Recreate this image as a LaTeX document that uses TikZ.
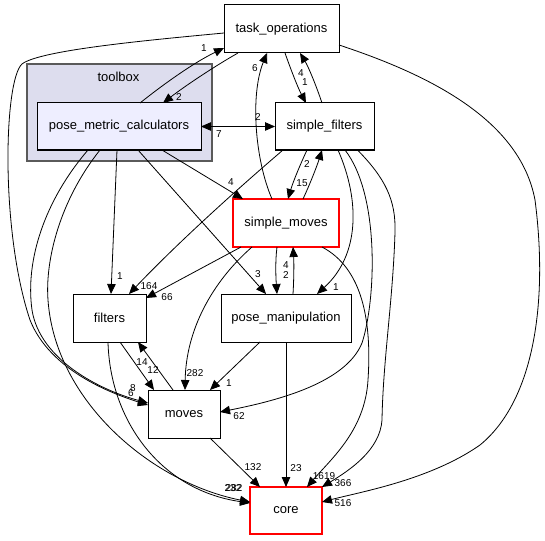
\documentclass[tikz,border=0pt]{standalone}
\usepackage{fontspec}
\setmainfont{Liberation Sans}
\usetikzlibrary{arrows.meta}
\definecolor{clusterfill}{RGB}{221,221,238}
\definecolor{nodefill}{RGB}{238,238,255}
\definecolor{clusterline}{RGB}{90,90,90}
\definecolor{boxred}{RGB}{255,0,0}
\begin{document}
\begin{tikzpicture}[x=1pt,y=-1pt,
  box/.style={draw=black,line width=1pt,fill=white,rectangle,inner sep=0pt,outer sep=0pt,font=\fontsize{13}{15}\selectfont},
  redbox/.style={box,draw=boxred,line width=1.2pt},
  dep/.style={line width=0.8pt,-{Triangle[length=10pt,width=8.5pt]}},
  both/.style={line width=0.8pt,{Triangle[length=10pt,width=8.5pt]}-{Triangle[length=10pt,width=8.5pt]}},
  lab/.style={font=\fontsize{10}{12}\selectfont,inner sep=0pt}
]
\useasboundingbox (0,0) rectangle (545,540);
% cluster
\node[draw=clusterline,line width=1.3pt,fill=clusterfill,minimum width=185pt,minimum height=97pt,inner sep=0pt,outer sep=0pt] (toolbox) at (119.5,112.5) {};
\node[font=\fontsize{13}{15}\selectfont,inner sep=0pt] (toolboxlabel) at (118.5,77) {toolbox};

% edges (drawn first, nodes on top)
\node[box,minimum width=115pt,minimum height=48pt] (to) at (281.5,29) {task\_operations};
\node[box,fill=nodefill,minimum width=164pt,minimum height=47pt] (pmc) at (119,126.5) {pose\_metric\_calculators};
\node[box,minimum width=99pt,minimum height=47pt] (sf) at (324.5,126.5) {simple\_filters};
\node[redbox,minimum width=106pt,minimum height=48pt] (sm) at (286,223) {simple\_moves};
\node[box,minimum width=73pt,minimum height=48pt] (fil) at (109.5,318) {filters};
\node[box,minimum width=130pt,minimum height=48pt] (pm) at (286,318) {pose\_manipulation};
\node[box,minimum width=72pt,minimum height=48pt] (mv) at (184,414) {moves};
\node[redbox,minimum width=72pt,minimum height=47pt] (core) at (286,510.5) {core};

\draw[dep] ([xshift=21pt]pmc.north) .. controls (165,83) and (195,62) .. ([yshift=5pt]to.south west);
\draw[dep] ([xshift=-43.5pt]to.south) .. controls (215,66) and (185,86) .. ([xshift=44pt]pmc.north);
\draw[dep] ([yshift=-4pt]to.west) .. controls (150,40) and (40,50) .. (22,64) .. controls (4,80) and (0,230) .. (30,320) .. controls (50,370) and (110,393) .. ([yshift=9pt]mv.west);
\draw[dep] ([yshift=-16pt]to.east) .. controls (430,75) and (520,120) .. (535,200) .. controls (548,300) and (535,400) .. (480,445) .. controls (430,480) and (360,492) .. ([yshift=8.5pt]core.east);
\draw[dep] ([xshift=3.5pt]to.south) .. controls (291,70) and (298,88) .. ([xshift=-18.5pt]sf.north);
\draw[dep] ([xshift=-2.5pt]sf.north) .. controls (316,85) and (308,66) .. ([xshift=18.5pt]to.south);
\draw[dep] ([xshift=-14pt]sm.north) .. controls (255,160) and (250,95) .. ([xshift=-14.5pt]to.south);
\draw[both] (pmc.east) -- (sf.west);
\draw[dep] ([xshift=-17.5pt]sf.south) .. controls (300,165) and (293,182) .. ([xshift=2pt]sm.north);
\draw[dep] ([xshift=17pt]sm.north) .. controls (310,184) and (317,166) .. ([xshift=-2.5pt]sf.south);
\draw[dep] ([xshift=43pt]pmc.south) -- ([xshift=-43pt]sm.north);
\draw[dep] ([xshift=-41.5pt]sf.south) .. controls (262,168) and (190,230) .. ([xshift=19.5pt]fil.north);
\draw[dep] ([xshift=-45pt]sm.south) -- ([yshift=20pt]fil.east);
\draw[dep] ([xshift=-2pt]pmc.south) -- ([xshift=1.5pt]fil.north);
\draw[dep] ([xshift=19pt]pmc.south) -- ([xshift=-20pt]pm.north);
\draw[dep] ([xshift=-9pt]sm.south) .. controls (275,262) and (276,280) .. ([xshift=-9pt]pm.north);
\draw[dep] ([xshift=7pt]pm.north) .. controls (294,278) and (294,262) .. ([xshift=7pt]sm.south);
\draw[dep] ([xshift=13.5pt]sf.south) .. controls (360,200) and (360,255) .. ([xshift=31pt]pm.north);
\draw[dep] ([xshift=20.5pt]sf.south) .. controls (380,195) and (376,300) .. (362,343) .. controls (345,385) and (270,402) .. ([yshift=2pt]mv.east);
\draw[dep] ([xshift=33pt]sf.south) .. controls (385,178) and (396,200) .. (395,232) .. controls (393,300) and (383,360) .. (382,420) .. controls (380,450) and (350,470) .. (core.north east);
\draw[dep] ([xshift=36pt]sm.south) .. controls (362,268) and (372,320) .. (368,380) .. controls (365,430) and (332,458) .. ([xshift=21pt]core.north);
\draw[dep] ([xshift=-34pt]sm.south) .. controls (212,282) and (186,330) .. ([xshift=1pt]mv.north);
\draw[dep] ([xshift=-26pt]pm.south) -- ([xshift=26pt]mv.north);
\draw[dep] (pm.south) -- (core.north);
\draw[dep] ([xshift=26pt]mv.south) -- ([xshift=-26pt]core.north);
\draw[dep] ([xshift=10.5pt]fil.south) -- ([xshift=-30pt]mv.north);
\draw[dep] ([xshift=-11pt]mv.north) -- ([xshift=28.5pt]fil.south);
\draw[dep] ([xshift=-1.5pt]fil.south) .. controls (110,420) and (160,490) .. ([yshift=7.5pt]core.west);
\draw[dep] ([xshift=-31pt]pmc.south) .. controls (45,200) and (25,260) .. (32,310) .. controls (40,360) and (100,390) .. ([yshift=11pt]mv.west);
\draw[dep] ([xshift=-19pt]pmc.south) .. controls (60,200) and (45,260) .. (48,300) .. controls (55,400) and (150,482) .. ([yshift=8.5pt]core.west);

% labels
\node[lab] (l1) at (204,48) {1};
\node[lab] (l2) at (179,97) {2};
\node[lab] (l3) at (255,68) {6};
\node[lab] (l4) at (301,73) {4};
\node[lab] (l5) at (305,82) {1};
\node[lab] (l6) at (258,117) {2};
\node[lab] (l7) at (219,134) {7};
\node[lab] (l8) at (231,182) {4};
\node[lab] (l9) at (302,183) {15};
\node[lab] (l10) at (307,164) {2};
\node[lab] (l11) at (120,276) {1};
\node[lab] (l12) at (149,286) {164};
\node[lab] (l13) at (167,297) {66};
\node[lab] (l14) at (258,274) {3};
\node[lab] (l15) at (286,265) {4};
\node[lab] (l16) at (286,275) {2};
\node[lab] (l17) at (336,287) {1};
\node[lab] (l18) at (142,362) {14};
\node[lab] (l19) at (153,370) {12};
\node[lab] (l20) at (195,373) {282};
\node[lab] (l21) at (229,383) {1};
\node[lab] (l22) at (133,388) {8};
\node[lab] (l23) at (131,393) {6};
\node[lab] (l24) at (239,416) {62};
\node[lab] (l25) at (253,467) {132};
\node[lab] (l26) at (296,468) {23};
\node[lab] (l27) at (324,476) {1619};
\node[lab] (l28) at (343,483) {366};
\node[lab] (l29) at (343,503) {516};
\node[lab] (l30) at (233,488) {232};
\node[lab] (l31) at (234,488) {282};
\end{tikzpicture}
\end{document}
